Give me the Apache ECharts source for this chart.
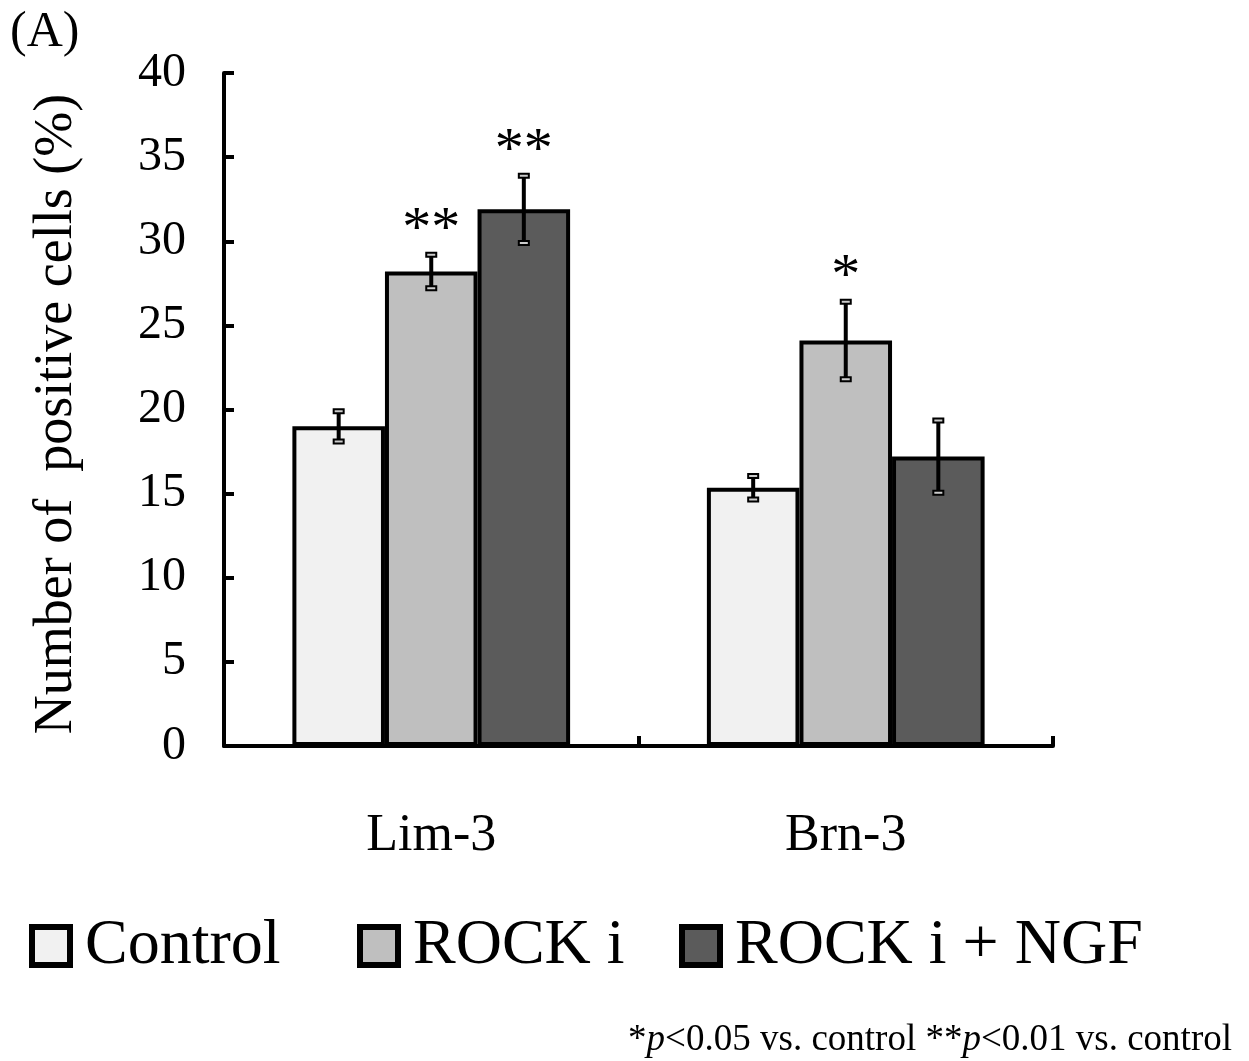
<!DOCTYPE html>
<html>
<head>
<meta charset="utf-8">
<script src="https://cdn.jsdelivr.net/npm/echarts@6/dist/echarts.min.js"></script>
<style>html,body{margin:0;padding:0;background:#fff}#c{width:1249px;height:1061px}</style>
</head>
<body>
<div id="c"></div>
<script>
var categories = ['Lim-3', 'Brn-3'];
var seriesNames = ['Control', 'ROCK i', 'ROCK i + NGF'];
var controlValues = [19.0, 15.35];
var rockValues = [28.2, 24.1];
var ngfValues = [31.9, 17.2];
var controlErr = [0.9, 0.7];
var rockErr = [1.0, 2.3];
var ngfErr = [2.0, 2.15];
var controlSig = ['', ''];
var rockSig = ['**', '*'];
var ngfSig = ['**', ''];
var yTicks = [0, 5, 10, 15, 20, 25, 30, 35, 40];

var colors = ['#f1f1f1', '#bfbfbf', '#5b5b5b'];
var values = [controlValues, rockValues, ngfValues];
var errs = [controlErr, rockErr, ngfErr];
var sigs = [controlSig, rockSig, ngfSig];
var CAT_GAP = 0.33;
var FONT = '"Liberation Serif","Times New Roman",serif';

var chart = echarts.init(document.getElementById('c'));

var errData = [];
for (var s = 0; s < 3; s++) {
  for (var i = 0; i < categories.length; i++) {
    errData.push([i, values[s][i], errs[s][i], s, sigs[s][i]]);
  }
}

function renderErr(params, api) {
  var ci = api.value(0), v = api.value(1), e = api.value(2), s = api.value(3);
  var sig = errData[params.dataIndex][4];
  var catW = api.size([1, 0])[0];
  var barW = catW * (1 - CAT_GAP) / 3;
  var center = api.coord([ci, v]);
  var x = center[0] + (s - 1) * barW;
  var top = api.coord([ci, v + e])[1];
  var bot = api.coord([ci, v - e])[1];
  var children = [
    {type: 'line', shape: {x1: x, y1: top, x2: x, y2: bot}, style: {stroke: '#000', lineWidth: 4}},
    {type: 'rect', shape: {x: x - 5, y: top - 2, width: 10, height: 4}, style: {fill: '#ccc', stroke: '#000', lineWidth: 2}},
    {type: 'rect', shape: {x: x - 5, y: bot - 2, width: 10, height: 4}, style: {fill: '#ccc', stroke: '#000', lineWidth: 2}}
  ];
  if (sig) {
    children.push({type: 'text', style: {text: sig, x: x, y: top - 24, align: 'center', verticalAlign: 'middle', font: '58px ' + FONT, fill: '#000'}});
  }
  return {type: 'group', children: children};
}

var series = [];
for (var k = 0; k < 3; k++) {
  series.push({
    name: seriesNames[k], type: 'bar', data: values[k],
    barGap: '0%', barCategoryGap: (CAT_GAP * 100) + '%',
    itemStyle: {color: colors[k], borderColor: '#000', borderWidth: 4},
    emphasis: {disabled: true}, silent: true
  });
}
series.push({type: 'custom', renderItem: renderErr, data: errData, z: 10, silent: true,
  encode: {x: 0, y: 1}});

function legendFor(name, left) {
  return {
    data: [name], left: left, top: 909, orient: 'horizontal',
    icon: 'rect', itemWidth: 38, itemHeight: 38, selectedMode: false,
    itemStyle: {borderColor: '#000', borderWidth: 6},
    textStyle: {fontFamily: FONT, fontSize: 64, color: '#000', padding: [0, 0, 0, 10]}
  };
}

chart.setOption({
  animation: false,
  backgroundColor: '#fff',
  grid: {left: 224, right: 196, top: 73, bottom: 315, containLabel: false},
  xAxis: {
    type: 'category', data: categories,
    axisLine: {lineStyle: {color: '#000', width: 4}},
    axisTick: {show: true, inside: true, length: 10, lineStyle: {color: '#000', width: 4}},
    axisLabel: {fontFamily: FONT, fontSize: 52, color: '#000', margin: 64}
  },
  yAxis: {
    type: 'value', min: yTicks[0], max: yTicks[yTicks.length - 1], interval: 5,
    splitLine: {show: false},
    axisLine: {show: true, lineStyle: {color: '#000', width: 4}},
    axisTick: {show: true, inside: true, length: 10, lineStyle: {color: '#000', width: 4}},
    axisLabel: {fontFamily: FONT, fontSize: 48, color: '#000', margin: 38}
  },
  legend: [legendFor('Control', 24), legendFor('ROCK i', 352), legendFor('ROCK i + NGF', 674)],
  series: series,
  graphic: [
    {type: 'text', left: 10, top: 8, style: {text: '(A)', font: '50px ' + FONT, fill: '#000'}},
    {type: 'text', x: 57, y: 414, rotation: Math.PI / 2,
      style: {text: 'Number of  positive cells (%)', font: '54px ' + FONT, fill: '#000', align: 'center', verticalAlign: 'middle'}},
    {type: 'text', right: 17, top: 1022,
      style: {
        text: '*{i|p}<0.05 vs. control **{i|p}<0.01 vs. control',
        font: '37px ' + FONT, fill: '#000',
        rich: {i: {fontStyle: 'italic', fontFamily: FONT, fontSize: 37}}
      }}
  ]
});
</script>
</body>
</html>
